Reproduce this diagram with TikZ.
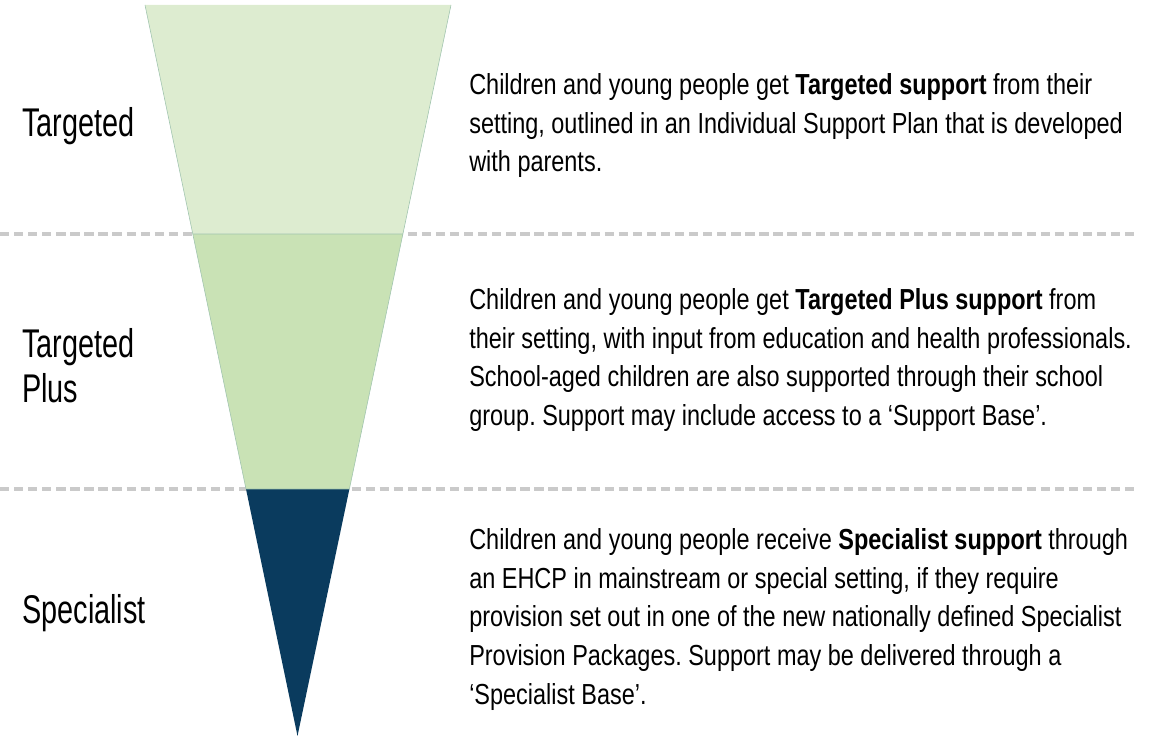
\documentclass[tikz,border=0pt]{standalone}
\usepackage{fontspec}
\setmainfont[FakeStretch=0.81]{Liberation Sans}
\newfontfamily\tierfont[FakeStretch=0.72]{Liberation Sans}
\usetikzlibrary{positioning}
\definecolor{lightgreen}{HTML}{DDECD0}
\definecolor{midgreen}{HTML}{C9E2B5}
\definecolor{navy}{HTML}{0A3B5E}
\definecolor{dashgrey}{HTML}{CACACA}
\definecolor{edgegreen}{HTML}{9FC3AE}
\frenchspacing

\begin{document}
\begin{tikzpicture}[x=0.025cm,y=-0.025cm,
    tier/.style={font=\tierfont\fontsize{28.5}{32}\selectfont, anchor=west, align=left, inner sep=0pt},
    blurb/.style={font=\fontsize{20.6}{27.6}\selectfont, anchor=north west, align=left, inner sep=0pt},
    divider/.style={dashgrey, line width=2.3pt, dash pattern=on 6.6pt off 3.4pt}]
    \useasboundingbox (0,0) rectangle (1160,736);
    % dividers
    \draw[divider] (0,234) -- (1136,234);
    \draw[divider] (0,489) -- (1136,489);
    % funnel
    \coordinate (tl) at (145,5);     \coordinate (tr) at (451,5);
    \coordinate (ml) at (192.8,234); \coordinate (mr) at (402.9,234);
    \coordinate (bl) at (246,489);   \coordinate (br) at (349.4,489);
    \coordinate (tip) at (297.5,736);
    \fill[lightgreen] (tl) -- (tr) -- (mr) -- (ml) -- cycle;
    \fill[midgreen] (ml) -- (mr) -- (br) -- (bl) -- cycle;
    \fill[navy] (bl) -- (br) -- (tip) -- cycle;
    \draw[edgegreen, line width=0.4pt] (tl) -- (ml) -- (mr) -- (tr);
    \draw[edgegreen, line width=0.4pt] (ml) -- (bl) -- (br) -- (mr);
    % tier names
    \node[tier] (targeted) at (22,126) {Targeted};
    \node[tier] (plus) at (22,366) {Targeted\\Plus};
    \node[tier] (specialist) at (22,613) {Specialist};
    % descriptions
    \node[blurb] (targetedtext) at (469,73) {Children and young people get \textbf{Targeted support} from their\\
        setting, outlined in an Individual Support Plan that is developed\\
        with parents.};
    \node[blurb] (plustext) at (469,288) {Children and young people get \textbf{Targeted Plus support} from\\
        their setting, with input from education and health professionals.\\
        School-aged children are also supported through their school\\
        group. Support may include access to a ‘Support Base’.};
    \node[blurb] (specialisttext) at (469,528) {Children and young people receive \textbf{Specialist support} through\\
        an EHCP in mainstream or special setting, if they require\\
        provision set out in one of the new nationally defined Specialist\\
        Provision Packages. Support may be delivered through a\\
        ‘Specialist Base’.};
\end{tikzpicture}
\end{document}
